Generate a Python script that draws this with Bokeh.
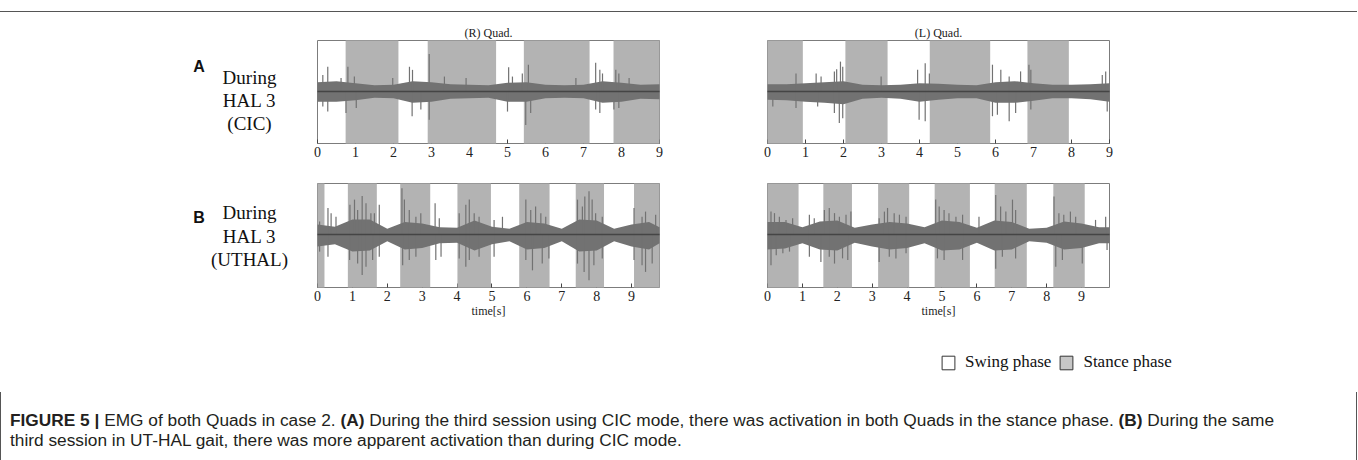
from bokeh.plotting import figure
from bokeh.models import (Range1d, FixedTicker, Div, Legend, LegendItem, ColumnDataSource)
from bokeh.core.properties import value
from bokeh.layouts import row, column
from bokeh.embed import file_html
from bokeh.resources import INLINE

SERIF = "Liberation Serif"

# ---------------- data ----------------
x_ticks = [0, 1, 2, 3, 4, 5, 6, 7, 8, 9]

# stance-phase (grey) intervals, seconds
tl_stance_start = [0.74, 2.90, 5.43, 7.79]
tl_stance_end = [2.13, 4.70, 7.16, 9.0]
tr_stance_start = [0.0, 2.05, 4.27, 6.84]
tr_stance_end = [0.93, 3.16, 5.86, 7.93]
bl_stance_start = [0.0, 0.87, 2.37, 4.01, 5.78, 7.40, 9.07]
bl_stance_end = [0.20, 1.70, 3.23, 4.97, 6.65, 8.21, 9.8]
br_stance_start = [0.0, 1.60, 3.17, 4.79, 6.51, 8.19]
br_stance_end = [0.89, 2.42, 4.06, 5.80, 7.43, 9.09]

# dense EMG band envelope (relative amplitude)
top_env_t = [0, 0.5, 1, 1.5, 2, 2.5, 3, 3.5, 4, 4.5, 5, 5.5, 6, 6.5, 7, 7.5, 8, 8.5, 9]
tl_env_up = [0.18, 0.20, 0.16, 0.12, 0.13, 0.20, 0.18, 0.14, 0.13, 0.12, 0.17, 0.18, 0.13, 0.12, 0.13, 0.20, 0.17, 0.13, 0.14]
tl_env_dn = [-0.20, -0.20, -0.17, -0.12, -0.13, -0.22, -0.20, -0.14, -0.13, -0.12, -0.20, -0.20, -0.13, -0.12, -0.13, -0.22, -0.20, -0.14, -0.15]
tr_env_up = [0.14, 0.14, 0.16, 0.18, 0.20, 0.13, 0.12, 0.13, 0.16, 0.15, 0.13, 0.12, 0.18, 0.20, 0.16, 0.13, 0.13, 0.14, 0.16]
tr_env_dn = [-0.16, -0.17, -0.20, -0.22, -0.25, -0.14, -0.12, -0.14, -0.20, -0.16, -0.13, -0.13, -0.22, -0.22, -0.18, -0.13, -0.13, -0.15, -0.20]

bot_env_t = [0, 0.5, 1, 1.5, 2, 2.5, 3, 3.5, 4, 4.5, 5, 5.5, 6, 6.5, 7, 7.5, 8, 8.5, 9, 9.5, 9.8]
bl_env_up = [0.20, 0.16, 0.30, 0.30, 0.12, 0.25, 0.22, 0.15, 0.14, 0.28, 0.16, 0.12, 0.25, 0.22, 0.12, 0.30, 0.28, 0.12, 0.20, 0.25, 0.15]
bl_env_dn = [-0.22, -0.18, -0.32, -0.30, -0.12, -0.28, -0.25, -0.16, -0.15, -0.30, -0.18, -0.12, -0.28, -0.25, -0.12, -0.32, -0.30, -0.12, -0.22, -0.28, -0.16]
br_env_up = [0.25, 0.25, 0.15, 0.26, 0.28, 0.14, 0.20, 0.25, 0.22, 0.15, 0.28, 0.25, 0.14, 0.28, 0.25, 0.12, 0.14, 0.26, 0.22, 0.15, 0.15]
br_env_dn = [-0.28, -0.26, -0.16, -0.28, -0.30, -0.15, -0.22, -0.28, -0.25, -0.16, -0.30, -0.28, -0.15, -0.30, -0.28, -0.12, -0.15, -0.28, -0.25, -0.16, -0.16]

# individual spikes (time, peak)
tl_up_t = [0.14, 0.27, 0.62, 0.80, 0.97, 1.98, 2.42, 2.50, 2.94, 3.34, 3.91, 5.03, 5.13, 5.39, 5.55, 6.80, 7.32, 7.43, 7.50, 7.85, 7.93, 8.20]
tl_up_a = [0.32, 0.48, 0.26, 0.48, 0.29, 0.26, 0.48, 0.42, 0.73, 0.29, 0.26, 0.47, 0.29, 0.35, 0.52, 0.26, 0.56, 0.42, 0.35, 0.42, 0.35, 0.26]
tl_dn_t = [0.14, 0.27, 0.75, 1.02, 2.49, 2.72, 2.94, 5.00, 5.48, 5.61, 7.32, 7.43, 7.80, 7.93]
tl_dn_a = [-0.29, -0.39, -0.42, -0.32, -0.48, -0.35, -0.55, -0.39, -0.65, -0.42, -0.35, -0.42, -0.35, -0.32]

tr_up_t = [0.75, 1.28, 1.41, 1.76, 1.82, 1.92, 1.98, 2.99, 3.95, 4.15, 4.26, 5.92, 6.14, 6.36, 6.66, 6.88, 6.93, 8.81, 8.90]
tr_up_a = [0.35, 0.35, 0.29, 0.39, 0.43, 0.58, 0.48, 0.29, 0.42, 0.55, 0.35, 0.52, 0.42, 0.29, 0.39, 0.52, 0.42, 0.32, 0.39]
tr_dn_t = [0.14, 0.75, 1.32, 1.76, 1.89, 1.98, 3.99, 4.15, 5.92, 6.05, 6.36, 6.53, 6.93, 8.94]
tr_dn_a = [-0.29, -0.32, -0.29, -0.42, -0.61, -0.52, -0.55, -0.58, -0.48, -0.45, -0.58, -0.42, -0.35, -0.39]

bl_up_t = [0.06, 0.30, 0.39, 0.53, 0.93, 1.06, 1.15, 1.28, 1.39, 1.53, 1.63, 1.77, 2.42, 2.49, 2.63, 2.82, 2.96, 3.37, 3.49,
           4.06, 4.25, 4.35, 4.49, 4.63, 5.06, 5.30, 5.97, 6.11, 6.25, 6.40, 6.54, 7.45, 7.59, 7.66, 7.78, 7.87, 7.97, 8.16,
           9.07, 9.30, 9.40, 9.69]
bl_up_a = [0.26, 0.52, 0.42, 0.35, 0.58, 0.68, 0.48, 0.75, 0.61, 0.42, 0.42, 0.58, 0.90, 0.68, 0.48, 0.35, 0.42, 0.61, 0.32,
           0.42, 0.58, 0.68, 0.42, 0.35, 0.29, 0.35, 0.68, 0.48, 0.55, 0.42, 0.35, 0.68, 0.55, 0.74, 0.84, 0.68, 0.42, 0.35,
           0.52, 0.35, 0.45, 0.39]
bl_dn_t = [0.06, 0.30, 0.92, 1.15, 1.28, 1.39, 1.58, 1.77, 2.44, 2.63, 2.82, 3.39, 3.54, 4.06, 4.25, 4.35, 4.63, 5.06,
           5.97, 6.16, 6.44, 6.63, 7.45, 7.64, 7.78, 7.92, 8.16, 9.07, 9.30, 9.40, 9.59]
bl_dn_a = [-0.32, -0.42, -0.48, -0.55, -0.77, -0.61, -0.48, -0.42, -0.58, -0.48, -0.42, -0.48, -0.42, -0.45, -0.61, -0.48, -0.42, -0.42,
           -0.48, -0.68, -0.55, -0.45, -0.55, -0.71, -0.87, -0.58, -0.45, -0.48, -0.58, -0.71, -0.55]

br_up_t = [0.10, 0.20, 0.34, 0.53, 0.72, 1.20, 1.34, 1.63, 1.77, 1.92, 2.06, 2.25, 2.39, 3.20, 3.35, 3.44, 3.63, 3.78, 3.97,
           4.82, 4.92, 5.06, 5.20, 5.40, 5.59, 6.06, 6.54, 6.68, 6.83, 7.02, 7.11, 8.21, 8.35, 8.49, 8.68, 8.83, 9.40, 9.69]
br_up_a = [0.45, 0.42, 0.35, 0.29, 0.32, 0.39, 0.32, 0.48, 0.52, 0.42, 0.35, 0.39, 0.45, 0.32, 0.45, 0.52, 0.42, 0.39, 0.35,
           0.68, 0.55, 0.48, 0.42, 0.35, 0.39, 0.35, 0.77, 0.55, 0.45, 0.68, 0.48, 0.74, 0.42, 0.39, 0.45, 0.35, 0.29, 0.35]
br_dn_t = [0.10, 0.25, 0.44, 0.63, 1.20, 1.53, 1.77, 1.92, 2.15, 2.30, 3.20, 3.49, 3.68, 3.97, 4.87, 5.06, 5.59,
           6.54, 6.73, 7.11, 8.26, 8.45, 9.02, 9.73]
br_dn_a = [-0.58, -0.39, -0.35, -0.32, -0.42, -0.52, -0.42, -0.55, -0.45, -0.48, -0.52, -0.42, -0.45, -0.35, -0.45, -0.48, -0.48,
           -0.65, -0.42, -0.45, -0.61, -0.48, -0.55, -0.29]

titles = ["(R) Quad.", "(L) Quad."]
x_label = "time[s]"
row_labels = [("A", ["During", "HAL 3", "(CIC)"]), ("B", ["During", "HAL 3", "(UTHAL)"])]
legend_labels = ["Swing phase", "Stance phase"]
caption_bold1 = "FIGURE 5 |"
caption_t1 = " EMG of both Quads in case 2. "
caption_bold2 = "(A)"
caption_t2 = " During the third session using CIC mode, there was activation in both Quads in the stance phase. "
caption_bold3 = "(B)"
caption_t3 = " During the same"
caption_t4 = "third session in UT-HAL gait, there was more apparent activation than during CIC mode."

# ---------------- styling ----------------
STANCE = "#b3b3b3"
SIGNAL = "#727272"
BASE = "#454545"
FRAME = "#7c7c7c"
Y0, Y1 = -1.01, 0.99


def panel(title, s_start, s_end, env_t, env_up, env_dn, up_t, up_a, dn_t, dn_a, xmax,
          b_top, b_bottom, b_left, b_right, fh, xlabel=None):
    p = figure(frame_width=342, frame_height=fh, x_range=Range1d(0, xmax), y_range=Range1d(Y0, Y1),
               output_backend="svg", toolbar_location=None, title=title, y_axis_location=None,
               min_border_top=b_top, min_border_bottom=b_bottom,
               min_border_left=b_left, min_border_right=b_right)
    p.grid.visible = False
    p.outline_line_color = FRAME
    p.outline_line_width = 1
    p.background_fill_color = "white"
    p.border_fill_color = "white"
    if title:
        p.title.align = "center"
        p.title.text_font = SERIF
        p.title.text_font_size = "12px"
        p.title.text_font_style = "normal"
        p.title.text_color = "#222222"
        p.title.standoff = 1
    ax = p.xaxis[0]
    ax.ticker = FixedTicker(ticks=x_ticks)
    ax.major_tick_in = 4
    ax.major_tick_out = 0
    ax.minor_tick_line_color = None
    ax.axis_line_color = None
    ax.major_tick_line_color = "#444444"
    ax.major_label_text_font = SERIF
    ax.major_label_text_font_size = "14px"
    ax.major_label_text_color = "#222222"
    ax.major_label_standoff = 3
    if xlabel:
        ax.axis_label = xlabel
        ax.axis_label_text_font = SERIF
        ax.axis_label_text_font_size = "12px"
        ax.axis_label_text_font_style = "normal"
        ax.axis_label_text_color = "#222222"
        ax.axis_label_standoff = 0

    src = ColumnDataSource(dict(left=s_start, right=s_end, bottom=[Y0] * len(s_start), top=[Y1] * len(s_start)))
    # drawn at annotation level so the grey phases cover the inward ticks like the original
    p.quad(left="left", right="right", bottom="bottom", top="top", source=src,
           fill_color=STANCE, line_color=None, level="annotation")
    p.varea(x=env_t, y1=env_dn, y2=env_up, fill_color=SIGNAL, level="annotation")
    p.segment(x0=up_t, y0=[0] * len(up_t), x1=up_t, y1=up_a, line_color=SIGNAL, line_width=1.2,
              level="annotation")
    p.segment(x0=dn_t, y0=[0] * len(dn_t), x1=dn_t, y1=dn_a, line_color=SIGNAL, line_width=1.2,
              level="annotation")
    p.hspan(y=[0], line_color=BASE, line_width=1.6, level="annotation")
    return p


def label_fig(letter, lines, letter_base, line_bases, w, h):
    # pixel-space canvas: y measured downward from the top of this strip
    f = figure(frame_width=w, frame_height=h, x_range=Range1d(0, w), y_range=Range1d(h, 0),
               output_backend="svg", toolbar_location=None, min_border=0, title=None,
               x_axis_location=None, y_axis_location=None, frame_align=False)
    f.grid.visible = False
    f.outline_line_color = None
    f.text(x=[198.5], y=[letter_base], text=[letter], text_font=value("Liberation Sans"),
           text_font_style="bold", text_font_size=value("16px"), text_align="center",
           text_baseline="alphabetic", text_color="#111111")
    f.text(x=[249] * len(lines), y=line_bases, text=lines, text_font=value(SERIF),
           text_font_size=value("19px"), text_align="center", text_baseline="alphabetic",
           text_color="#111111")
    return f


# ---------------- rows ----------------
labA = label_fig(row_labels[0][0], row_labels[0][1], 52, [63, 86, 109], 308, 158)
pTL = panel(titles[0], tl_stance_start, tl_stance_end, top_env_t, tl_env_up, tl_env_dn,
            tl_up_t, tl_up_a, tl_dn_t, tl_dn_a, 9, 26, 29, 9, 54, 103)
pTR = panel(titles[1], tr_stance_start, tr_stance_end, top_env_t, tr_env_up, tr_env_dn,
            tr_up_t, tr_up_a, tr_dn_t, tr_dn_a, 9, 26, 29, 54, 41, 103)

labB = label_fig(row_labels[1][0], row_labels[1][1], 45, [40, 64, 87], 308, 163)
pBL = panel(None, bl_stance_start, bl_stance_end, bot_env_t, bl_env_up, bl_env_dn,
            bl_up_t, bl_up_a, bl_dn_t, bl_dn_a, 9.8, 11, 48, 9, 54, 104, x_label)
pBR = panel(None, br_stance_start, br_stance_end, bot_env_t, br_env_up, br_env_dn,
            br_up_t, br_up_a, br_dn_t, br_dn_a, 9.8, 11, 48, 54, 41, 104, x_label)

# ---------------- legend ----------------
lg = figure(frame_width=1300, frame_height=50, x_range=Range1d(0, 1), y_range=Range1d(0, 1),
            output_backend="svg", toolbar_location=None, min_border=0, title=None,
            x_axis_location=None, y_axis_location=None, frame_align=False)
lg.grid.visible = False
lg.outline_line_color = None
# legend swatches (kept outside the visible range so only the legend shows them)
r_swing = lg.quad(left=[5], right=[6], bottom=[5], top=[6], fill_color="white", line_color="#333333", line_width=1)
r_stance = lg.quad(left=[5], right=[6], bottom=[5], top=[6], fill_color="#c6c6c6", line_color="#333333", line_width=1)
leg = Legend(items=[LegendItem(label=legend_labels[0], renderers=[r_swing]),
                    LegendItem(label=legend_labels[1], renderers=[r_stance])],
             orientation="horizontal", location=(940, 13), padding=0, margin=0, spacing=7,
             glyph_width=16, glyph_height=17, label_standoff=9, label_height=17, label_width=0,
             label_text_font=SERIF, label_text_font_size="17px", label_text_color="#111111",
             border_line_color=None, background_fill_alpha=0)
lg.add_layout(leg, "center")

# ---------------- rules & caption ----------------
top_rule = Div(text='<div style="width:1357px;height:0;margin-top:1px;border-top:1.5px solid #555;"></div>',
               width=1357, height=14, margin=0)

cap_html = ('<div style="box-sizing:border-box;width:1357px;height:68px;margin-top:7px;'
            'border-left:1.5px solid #555;border-right:1.5px solid #555;padding:19px 0 0 9px;'
            'font-family:\'Liberation Sans\';font-size:17.3px;line-height:19.5px;color:#231f20;white-space:nowrap;">'
            '<b>' + caption_bold1 + '</b>' + caption_t1 + '<b>' + caption_bold2 + '</b>' + caption_t2 +
            '<b>' + caption_bold3 + '</b>' + caption_t3 + '<br>' + caption_t4 + '</div>')
caption = Div(text=cap_html, width=1357, height=67, margin=0)

layout = column(top_rule,
                row(labA, pTL, pTR),
                row(labB, pBL, pBR),
                lg,
                caption)

open("out.html", "w").write(file_html(layout, INLINE))
